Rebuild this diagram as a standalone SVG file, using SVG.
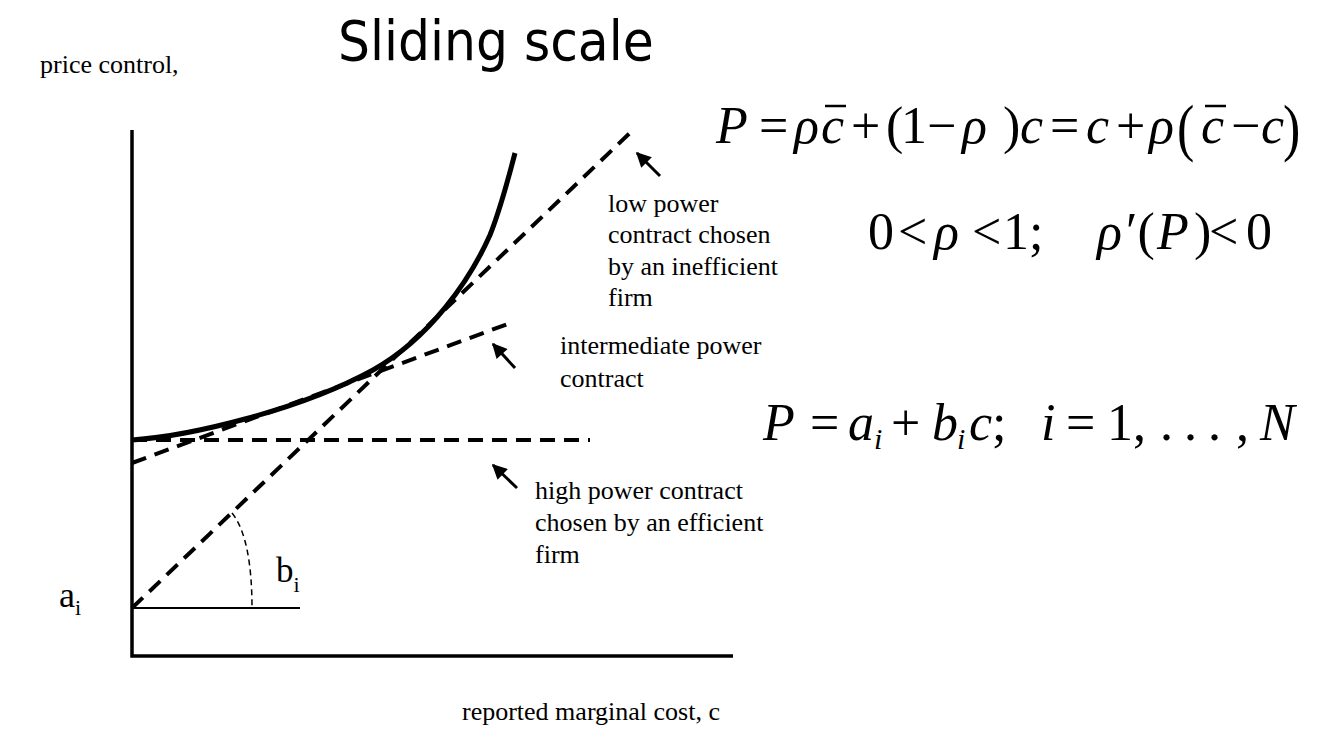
<svg xmlns="http://www.w3.org/2000/svg" width="1317" height="730" viewBox="0 0 1317 730">
<style>
.lbl{font-family:"Liberation Serif","Times New Roman",serif;font-size:26px;fill:#000}
.eq{font-family:"Liberation Serif","Times New Roman",serif;font-size:52px;fill:#000}
.it{font-style:italic}
.sub{font-family:"Liberation Serif","Times New Roman",serif;font-size:30px;font-style:italic;fill:#000}
.dash{fill:none;stroke:#000;stroke-width:4;stroke-dasharray:15 9}
.ax{fill:none;stroke:#000;stroke-width:3.5}
.arr{fill:none;stroke:#000;stroke-width:3;marker-end:url(#ah)}
.bar{stroke:#000;stroke-width:2.5}
</style>
<defs>
<marker id="ah" viewBox="0 0 10 10" refX="9" refY="5" markerUnits="userSpaceOnUse" markerWidth="17" markerHeight="15" orient="auto">
<path d="M0,0 L10,5 L0,10 z" fill="#000"/>
</marker>
</defs>
<rect width="1317" height="730" fill="#fff"/>
<text x="40" y="73" class="lbl">price control,</text>
<text x="338" y="60" font-family="'DejaVu Sans Condensed','DejaVu Sans',sans-serif" font-size="56" font-stretch="condensed" fill="#000">Sliding scale</text>
<g id="axes">
<path class="ax" d="M132,130 V656 H733"/>
<path d="M132,608 H300" fill="none" stroke="#000" stroke-width="2"/>
</g>
<g id="contracts">
<path class="dash" d="M132,608 L632,131"/>
<path class="dash" d="M132,440 H590"/>
<path class="dash" d="M132,463 L513,322"/>
<path d="M232,513 C246,530 252,565 252,608" fill="none" stroke="#000" stroke-width="1.5" stroke-dasharray="6 4"/>
</g>
<g id="curve">
<path d="M132,440 C190,436 300,410 373,370 C430,338 470,280 490,235 C500,210 508,180 515,153" fill="none" stroke="#000" stroke-width="5"/>
</g>
<g id="connectors">
<path class="arr" d="M660,176 L637,153"/>
<path class="arr" d="M515,368 L493,344"/>
<path class="arr" d="M517,488 L493,465"/>
</g>
<g id="label-low">
<text class="lbl" x="608" y="212">low power</text>
<text class="lbl" x="608" y="243">contract chosen</text>
<text class="lbl" x="608" y="275">by an inefficient</text>
<text class="lbl" x="608" y="306">firm</text>
</g>
<g id="label-mid">
<text class="lbl" x="560" y="354">intermediate power</text>
<text class="lbl" x="560" y="387">contract</text>
</g>
<g id="label-high">
<text class="lbl" x="535" y="499">high power contract</text>
<text class="lbl" x="535" y="531">chosen by an efficient</text>
<text class="lbl" x="535" y="563">firm</text>
</g>
<g id="label-ai">
<text x="59" y="607" font-family="'Liberation Serif',serif" font-size="36">a<tspan font-size="22" dy="8">i</tspan></text>
</g>
<g id="label-bi">
<text x="276" y="582" font-family="'Liberation Serif',serif" font-size="35">b<tspan font-size="22" dy="10">i</tspan></text>
</g>
<g id="eq1">
<text class="eq it" x="716" y="143">P</text>
<text class="eq" x="759" y="143">=</text>
<text class="eq it" x="794" y="143">ρ</text>
<text class="eq it" x="821" y="143">c</text>
<line class="bar" x1="825" y1="106" x2="846" y2="106"/>
<text class="eq" x="851" y="143">+</text>
<text class="eq" x="886" y="143">(</text>
<text class="eq" x="901" y="143">1</text>
<text class="eq" x="927" y="143">−</text>
<text class="eq it" x="962" y="143">ρ</text>
<text class="eq" x="1003" y="143">)</text>
<text class="eq it" x="1020" y="143">c</text>
<text class="eq" x="1050" y="143">=</text>
<text class="eq it" x="1086" y="143">c</text>
<text class="eq" x="1116" y="143">+</text>
<text class="eq it" x="1149" y="143">ρ</text>
<text class="eq" transform="translate(1177,149) scale(1,1.2)">(</text>
<text class="eq it" x="1201" y="143">c</text>
<line class="bar" x1="1205" y1="106" x2="1226" y2="106"/>
<text class="eq" x="1231" y="143">−</text>
<text class="eq it" x="1261" y="143">c</text>
<text class="eq" transform="translate(1283,149) scale(1,1.2)">)</text>
</g>
<g id="eq2">
<text class="eq" x="868" y="249">0</text>
<text class="eq" x="898" y="249">&lt;</text>
<text class="eq it" x="934" y="249">ρ</text>
<text class="eq" x="972" y="249">&lt;</text>
<text class="eq" x="1003" y="249">1;</text>
<text class="eq it" x="1097" y="249">ρ</text>
<text class="eq" x="1126" y="249">′(</text>
<text class="eq it" x="1157" y="249">P</text>
<text class="eq" x="1194" y="249">)</text>
<text class="eq" x="1209" y="249">&lt;</text>
<text class="eq" x="1246" y="249">0</text>
</g>
<g id="eq3">
<text class="eq it" x="763" y="440">P</text>
<text class="eq" x="810" y="440">=</text>
<text class="eq it" x="848" y="440">a</text>
<text class="sub" x="874" y="449">i</text>
<text class="eq" x="891" y="440">+</text>
<text class="eq it" x="932" y="440">b</text>
<text class="sub" x="957" y="449">i</text>
<text class="eq it" x="969" y="440">c</text>
<text class="eq" x="992" y="440">;</text>
<text class="eq it" x="1041" y="440">i</text>
<text class="eq" x="1066" y="440">=</text>
<text class="eq" x="1107" y="440">1,</text>
<text class="eq" x="1160" y="440">.</text>
<text class="eq" x="1184" y="440">.</text>
<text class="eq" x="1208" y="440">.</text>
<text class="eq" x="1236" y="440">,</text>
<text class="eq it" x="1260" y="440">N</text>
</g>
<text x="462" y="720" class="lbl">reported marginal cost, c</text>
</svg>
